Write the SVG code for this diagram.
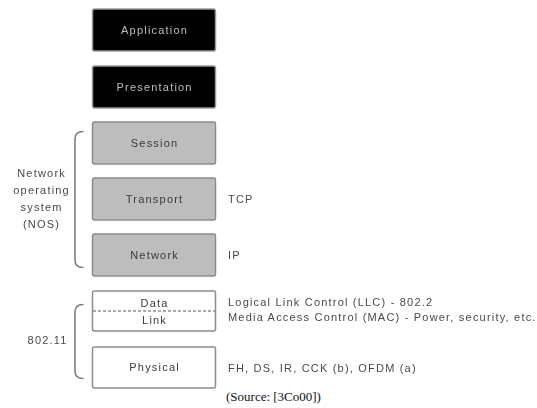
<svg xmlns="http://www.w3.org/2000/svg" width="537" height="408" viewBox="0 0 537 408">
  <style>
    text { font-family: "Liberation Sans", Arial, sans-serif; font-size: 11px; letter-spacing: 1.2px; }
    .mid { text-anchor: middle; }
    .dark rect { fill: #000; stroke: #9a9a9a; stroke-width: 1.5; }
    .dark text { fill: #bdbdbd; }
    .grey rect { fill: #bdbdbd; stroke: #8c8c8c; stroke-width: 1.5; }
    .grey text { fill: #3a3a3a; }
    .plain rect { fill: #fff; stroke: #8c8c8c; stroke-width: 1.5; }
    .plain text { fill: #3a3a3a; }
    .note { fill: #4a4a4a; }
    .brace { fill: none; stroke: #808080; stroke-width: 1.6; stroke-linecap: round; }
    .split { stroke: #555; stroke-width: 1.2; stroke-dasharray: 3 2; }
    .source { font-family: "Liberation Serif", "Times New Roman", serif; font-size: 13px; letter-spacing: 0; fill: #111; }
  </style>
  <defs>
    <!-- the stack figure is a soft raster in print; the caption is crisp -->
    <filter id="soft" x="-2%" y="-2%" width="104%" height="104%">
      <feGaussianBlur stdDeviation="0.55"/>
    </filter>
  </defs>

  <g filter="url(#soft)">
    <!-- protocol stack -->
    <g id="application" class="dark">
      <rect x="92.5" y="9" width="123" height="42" rx="2"/>
      <text class="mid" x="154.6" y="34">Application</text>
    </g>
    <g id="presentation" class="dark">
      <rect x="92.5" y="66" width="123" height="42" rx="2"/>
      <text class="mid" x="154.6" y="91">Presentation</text>
    </g>
    <g id="session" class="grey">
      <rect x="92.5" y="122" width="123" height="42" rx="2"/>
      <text class="mid" x="154.6" y="147">Session</text>
    </g>
    <g id="transport" class="grey">
      <rect x="92.5" y="178" width="123" height="42" rx="2"/>
      <text class="mid" x="154.6" y="203">Transport</text>
    </g>
    <g id="network" class="grey">
      <rect x="92.5" y="234" width="123" height="42" rx="2"/>
      <text class="mid" x="154.6" y="259">Network</text>
    </g>
    <g id="datalink" class="plain">
      <rect x="92.5" y="291" width="123" height="40" rx="2"/>
      <line class="split" x1="93" y1="311" x2="215" y2="311"/>
      <text class="mid" x="154.6" y="307">Data</text>
      <text class="mid" x="154.6" y="324">Link</text>
    </g>
    <g id="physical" class="plain">
      <rect x="92.5" y="347" width="123" height="41" rx="2"/>
      <text class="mid" x="154.6" y="371">Physical</text>
    </g>

    <!-- layer examples on the right -->
    <g id="protocols">
      <text class="note" x="228" y="203">TCP</text>
      <text class="note" x="228" y="259">IP</text>
      <text class="note" x="228" y="306">Logical Link Control (LLC) - 802.2</text>
      <text class="note" x="228" y="321">Media Access Control (MAC) - Power, security, etc.</text>
      <text class="note" x="228" y="372">FH, DS, IR, CCK (b), OFDM (a)</text>
    </g>

    <!-- grouping brackets -->
    <g id="connectors">
      <path class="brace" d="M83,131.5 C77.5,131.5 75,134 75,139 L75,260 C75,265 77.5,267.5 83,267.5"/>
      <path class="brace" d="M83,304.5 C77.5,304.5 75,307 75,312 L75,371 C75,376 77.5,378.5 83,378.5"/>
    </g>

    <g id="nos-label">
      <text class="note mid" x="41.6" y="177">Network</text>
      <text class="note mid" x="41.6" y="194">operating</text>
      <text class="note mid" x="41.6" y="211">system</text>
      <text class="note mid" x="41.6" y="228">(NOS)</text>
    </g>
    <g id="wlan-label">
      <text class="note mid" x="47.6" y="344">802.11</text>
    </g>
  </g>

  <text class="source" x="226" y="401">(Source: [3Co00])</text>
</svg>
